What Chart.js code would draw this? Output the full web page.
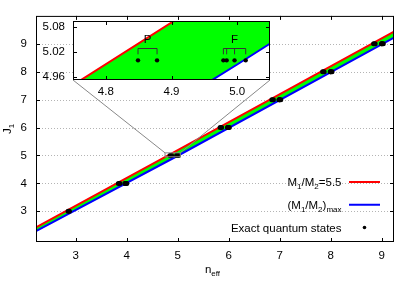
<!DOCTYPE html>
<html lang="en">
<head>
<meta charset="UTF-8">
<title>J1 vs n_eff</title>
<style>
  html, body { margin: 0; padding: 0; background: #fff; }
  #wrap { position: relative; width: 415px; height: 291px; }
  #wrap canvas { position: absolute; left: 0; top: 0; }
  #inset { pointer-events: none; }
</style>
</head>
<body>
<div id="wrap">
  <canvas id="main" width="415" height="291"></canvas>
  <canvas id="inset" width="415" height="291"></canvas>
</div>
<script src="https://cdn.jsdelivr.net/npm/chart.js"></script>
<script>
// band edges J1(n_eff)
const bandN = [2.22, 5.0, 9.24];
const ratio55J = [2.42, 5.19, 9.44];
const ratioMaxJ = [2.29, 4.99, 9.22];

// exact quantum states, grouped by J1 level (P-like pair, F-like group)
const stateJ = [3, 4, 5, 6, 7, 8, 9];
const pStatesN = [
  [2.85, 2.875], [3.835, 3.865], [4.849, 4.878], [5.83, 5.86],
  [6.845, 6.875], [7.84, 7.87], [8.84, 8.87]
];
const fStatesN = [
  [], [3.965, 3.97, 3.98, 4.0], [4.979, 4.984, 4.996, 5.013], [5.975, 5.98, 5.99, 6.01],
  [6.985, 6.99, 7.0, 7.02], [7.99, 7.995, 8.005, 8.025], [8.995, 9.0, 9.01, 9.03]
];
const insetJ = 5;

const seriesLabels = ['M_1/M_2=5.5', '(M_1/M_2)_{max}', 'Exact quantum states'];
const xTitle = 'n_{eff}';
const yTitle = 'J_1';

const mainXTicks = [3, 4, 5, 6, 7, 8, 9];
const mainYTicks = [3, 4, 5, 6, 7, 8, 9];
const insetXTicks = [4.8, 4.9, 5.0];
const insetYTicks = [4.96, 5.02, 5.08];
const mainXRange = [2.22, 9.24];
const mainYRange = [1.9, 10];
const insetXRange = [4.75, 5.05];
const insetYRange = [4.953, 5.094];

const FAMILY = '"Liberation Sans", Arial, sans-serif';
const BASE = '11.5px ' + FAMILY;
const SUB = '8px ' + FAMILY;

function richParts(s) {
  const parts = [];
  let buf = '', i = 0;
  while (i < s.length) {
    if (s[i] === '_') {
      if (buf) { parts.push({ t: buf, sub: false }); buf = ''; }
      if (s[i + 1] === '{') {
        const j = s.indexOf('}', i);
        parts.push({ t: s.slice(i + 2, j), sub: true });
        i = j + 1;
      } else {
        parts.push({ t: s[i + 1], sub: true });
        i += 2;
      }
    } else {
      buf += s[i];
      i++;
    }
  }
  if (buf) parts.push({ t: buf, sub: false });
  return parts;
}

function drawRich(ctx, s, x, y, align) {
  const parts = richParts(s);
  let w = 0;
  parts.forEach(p => { ctx.font = p.sub ? SUB : BASE; w += ctx.measureText(p.t).width; });
  let cx = align === 'right' ? x - w : align === 'center' ? x - w / 2 : x;
  ctx.textAlign = 'left';
  ctx.textBaseline = 'alphabetic';
  ctx.fillStyle = '#000';
  parts.forEach(p => {
    ctx.font = p.sub ? SUB : BASE;
    ctx.fillText(p.t, cx, y + (p.sub ? 3 : 0));
    cx += ctx.measureText(p.t).width;
  });
}

const statePoints = [];
stateJ.forEach((j, k) => {
  pStatesN[k].concat(fStatesN[k]).forEach(n => statePoints.push({ x: n, y: j }));
});

function bandData(ys) {
  return bandN.map((n, i) => ({ x: n, y: ys[i] }));
}

function makeDatasets(dotR) {
  return [
    { label: seriesLabels[0], data: bandData(ratio55J), borderColor: '#ff0000', borderWidth: 2,
      pointRadius: 0, fill: '+1', backgroundColor: '#00ff00', order: 1 },
    { label: seriesLabels[1], data: bandData(ratioMaxJ), borderColor: '#0000ff', borderWidth: 2,
      pointRadius: 0, fill: false, order: 2 },
    { label: seriesLabels[2], data: statePoints, showLine: false, pointRadius: dotR,
      pointBackgroundColor: '#000', pointBorderWidth: 0, order: 0 }
  ];
}

function makeScales(xr, yr, xt, yt, xFmt, yFmt, xH, yW, xPad, yPad) {
  const tickFont = { family: FAMILY, size: 11.5 };
  return {
    x: {
      type: 'linear', min: xr[0], max: xr[1],
      afterBuildTicks: s => { s.ticks = xt.map(v => ({ value: v })); },
      afterFit: s => { s.height = xH; },
      grid: { display: false, drawTicks: false }, border: { display: false },
      ticks: { padding: xPad, font: tickFont, color: '#000', autoSkip: false, maxRotation: 0, callback: xFmt }
    },
    y: {
      type: 'linear', min: yr[0], max: yr[1],
      afterBuildTicks: s => { s.ticks = yt.map(v => ({ value: v })); },
      afterFit: s => { s.width = yW; },
      grid: { display: false, drawTicks: false }, border: { display: false },
      ticks: { padding: yPad, font: tickFont, color: '#000', autoSkip: false, callback: yFmt }
    }
  };
}

// frame with inward tick marks on all four sides
function drawFrame(chart, xt, yt) {
  const { ctx, chartArea: a, scales: { x, y } } = chart;
  ctx.save();
  ctx.strokeStyle = '#000';
  ctx.lineWidth = 1;
  ctx.beginPath();
  xt.forEach(v => {
    const px = Math.round(x.getPixelForValue(v)) + 0.5;
    ctx.moveTo(px, a.bottom); ctx.lineTo(px, a.bottom - 4);
    ctx.moveTo(px, a.top); ctx.lineTo(px, a.top + 4);
  });
  yt.forEach(v => {
    const py = Math.round(y.getPixelForValue(v)) + 0.5;
    ctx.moveTo(a.left, py); ctx.lineTo(a.left + 4, py);
    ctx.moveTo(a.right, py); ctx.lineTo(a.right - 4, py);
  });
  ctx.stroke();
  ctx.strokeRect(a.left + 0.5, a.top + 0.5, a.right - a.left - 1, a.bottom - a.top - 1);
  ctx.restore();
}

const insetPlugin = {
  id: 'insetDeco',
  beforeDraw(chart) {
    const { ctx, chartArea: a } = chart;
    ctx.save();
    ctx.fillStyle = '#fff';
    ctx.fillRect(a.left, a.top, a.right - a.left, a.bottom - a.top);
    ctx.restore();
  },
  afterDraw(chart) {
    const { ctx, scales: { x, y } } = chart;
    drawFrame(chart, insetXTicks, insetYTicks);
    const k = stateJ.indexOf(insetJ);
    const yDot = y.getPixelForValue(insetJ);
    [[pStatesN[k], 'P'], [fStatesN[k], 'F']].forEach(([ns, lab]) => {
      const px = ns.map(n => x.getPixelForValue(n));
      const yBar = Math.round(yDot - 12.5) + 0.5;
      const yLeg = yDot - 6;
      ctx.save();
      ctx.strokeStyle = '#333';
      ctx.lineWidth = 1;
      ctx.beginPath();
      ctx.moveTo(Math.min(...px), yBar);
      ctx.lineTo(Math.max(...px), yBar);
      px.forEach(p => { ctx.moveTo(p, yBar); ctx.lineTo(p, yLeg); });
      ctx.stroke();
      ctx.restore();
      drawRich(ctx, lab, (Math.min(...px) + Math.max(...px)) / 2, yDot - 17, 'center');
    });
  }
};

const insetChart = new Chart(document.getElementById('inset'), {
  type: 'line',
  data: { datasets: makeDatasets(2.2) },
  options: {
    responsive: false, animation: false, events: [],
    layout: { padding: { left: 0, top: 21, right: 145, bottom: 191 } },
    plugins: { legend: { display: false }, tooltip: { enabled: false }, filler: { drawTime: 'beforeDatasetsDraw' } },
    scales: makeScales(insetXRange, insetYRange, insetXTicks, insetYTicks,
      v => v.toFixed(1), v => v.toFixed(2), 20, 73, 5, 8)
  },
  plugins: [insetPlugin]
});

const mainPlugin = {
  id: 'mainDeco',
  beforeDraw(chart) {
    const { ctx, chartArea: a, scales: { y } } = chart;
    ctx.save();
    ctx.strokeStyle = '#b4b4b4';
    ctx.lineWidth = 1;
    ctx.setLineDash([1, 2]);
    ctx.beginPath();
    mainYTicks.forEach(v => {
      const py = Math.round(y.getPixelForValue(v)) + 0.5;
      ctx.moveTo(a.left, py); ctx.lineTo(a.right, py);
    });
    ctx.stroke();
    ctx.restore();
  },
  afterDraw(chart) {
    const { ctx, chartArea: a, scales: { x, y } } = chart;
    drawFrame(chart, mainXTicks, mainYTicks);

    // zoom box and connectors to the inset
    const rx0 = x.getPixelForValue(insetXRange[0]), rx1 = x.getPixelForValue(insetXRange[1]);
    const ry0 = y.getPixelForValue(insetYRange[1]), ry1 = y.getPixelForValue(insetYRange[0]);
    const ia = insetChart.chartArea;
    ctx.save();
    ctx.strokeStyle = '#888';
    ctx.lineWidth = 1;
    ctx.strokeRect(rx0, ry0, rx1 - rx0, ry1 - ry0);
    ctx.beginPath();
    ctx.moveTo(ia.left, ia.bottom); ctx.lineTo(rx0, ry0);
    ctx.moveTo(ia.right, ia.bottom); ctx.lineTo(rx1, ry0);
    ctx.stroke();
    ctx.restore();

    // axis titles
    drawRich(ctx, xTitle, (a.left + a.right) / 2 - 2.5, 273, 'center');
    ctx.save();
    ctx.translate(10.5, (a.top + a.bottom) / 2);
    ctx.rotate(-Math.PI / 2);
    drawRich(ctx, yTitle, 0, 0, 'center');
    ctx.restore();

    // key
    const ds = chart.data.datasets;
    const lineEnd = a.right - 14, lineStart = lineEnd - 31, textRight = lineStart - 7.5;
    ds.forEach((d, i) => {
      const cy = a.bottom - 14.5 - (ds.length - 1 - i) * 22.75;
      drawRich(ctx, d.label, textRight, cy + 4, 'right');
      ctx.save();
      if (d.showLine === false) {
        ctx.fillStyle = '#000';
        ctx.beginPath();
        ctx.arc((lineStart + lineEnd) / 2, cy, 1.8, 0, Math.PI * 2);
        ctx.fill();
      } else {
        ctx.strokeStyle = d.borderColor;
        ctx.lineWidth = 2;
        ctx.beginPath();
        ctx.moveTo(lineStart, cy); ctx.lineTo(lineEnd, cy);
        ctx.stroke();
      }
      ctx.restore();
    });
  }
};

new Chart(document.getElementById('main'), {
  type: 'line',
  data: { datasets: makeDatasets(2.5) },
  options: {
    responsive: false, animation: false, events: [],
    layout: { padding: { left: 0, top: 14, right: 21, bottom: 0 } },
    plugins: { legend: { display: false }, tooltip: { enabled: false }, filler: { drawTime: 'beforeDatasetsDraw' } },
    scales: makeScales(mainXRange, mainYRange, mainXTicks, mainYTicks,
      v => String(v), v => String(v), 49, 36, 7, 9)
  },
  plugins: [mainPlugin]
});
</script>
</body>
</html>
